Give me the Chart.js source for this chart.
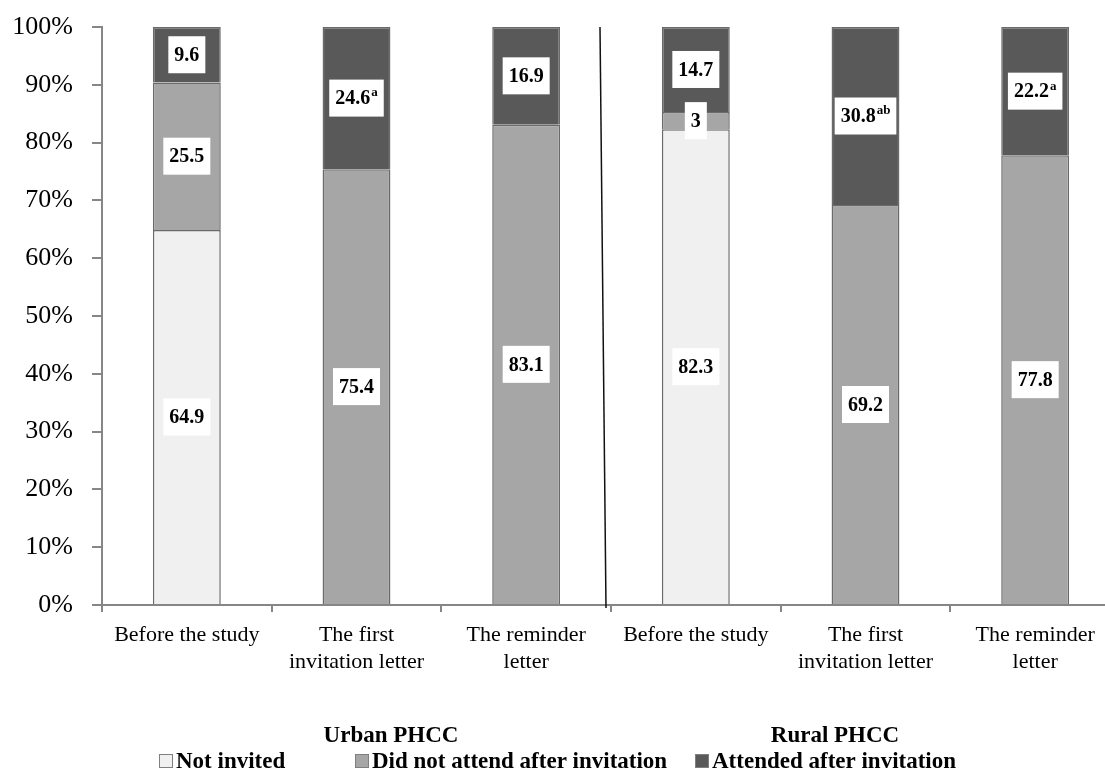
<!DOCTYPE html>
<html>
<head>
<meta charset="utf-8">
<script src="https://cdn.jsdelivr.net/npm/chart.js@4/dist/chart.umd.min.js"></script>
<style>
    html, body { margin: 0; padding: 0; background: #ffffff; overflow: hidden; }
    #caja { position: absolute; left: 0; top: 0; width: 1120px; height: 770px; }
</style>
</head>
<body>
<div id="caja"><canvas id="grafica"></canvas></div>
<script>
// categorias del eje x (3 urbano + 3 rural)
const categorias = [
    ["Before the study"],
    ["The first", "invitation letter"],
    ["The reminder", "letter"],
    ["Before the study"],
    ["The first", "invitation letter"],
    ["The reminder", "letter"],
];
const grupos = ["Urban PHCC", "Rural PHCC"];
const series = ["Not invited", "Did not attend after invitation", "Attended after invitation"];

const noInvitados = [64.9, 0, 0, 82.3, 0, 0];
const noAsistieron = [25.5, 75.4, 83.1, 3, 69.2, 77.8];
const asistieron = [9.6, 24.6, 16.9, 14.7, 30.8, 22.2];
// superindices de significancia sobre "Attended"
const superAsistieron = ["", "a", "", "", "ab", "a"];

const ticksY = [0, 10, 20, 30, 40, 50, 60, 70, 80, 90, 100];

const colores = ["#f0f0f0", "#a6a6a6", "#595959"];
const FUENTE = '"Palatino Linotype", "Book Antiqua", Palatino, "Liberation Serif", serif';

// etiquetas blancas con el valor de cada segmento
const etiquetas = {
    id: "etiquetas",
    afterDatasetsDraw(chart) {
        const ctx = chart.ctx;
        ctx.save();
        chart.data.datasets.forEach((ds, d) => {
            const meta = chart.getDatasetMeta(d);
            meta.data.forEach((bar, i) => {
                const v = ds.data[i];
                if (!v) return;
                const p = bar.getProps(["x", "y", "base"], true);
                const cy = (p.y + p.base) / 2;
                const texto = String(v);
                const sup = (ds.sup && ds.sup[i]) || "";
                ctx.font = "bold 20px " + FUENTE;
                const w1 = ctx.measureText(texto).width;
                ctx.font = "bold 13px " + FUENTE;
                const w2 = sup ? ctx.measureText(sup).width + 1 : 0;
                const ancho = w1 + w2 + 12;
                const alto = 37;
                ctx.fillStyle = "#ffffff";
                ctx.fillRect(p.x - ancho / 2, cy - alto / 2, ancho, alto);
                ctx.fillStyle = "#000000";
                ctx.textBaseline = "middle";
                ctx.textAlign = "left";
                ctx.font = "bold 20px " + FUENTE;
                const x0 = p.x - (w1 + w2) / 2;
                ctx.fillText(texto, x0, cy + 1);
                if (sup) {
                    ctx.font = "bold 13px " + FUENTE;
                    ctx.fillText(sup, x0 + w1 + 1, cy - 5);
                }
            });
        });
        ctx.restore();
    },
};

// linea que separa urbano / rural
const separador = {
    id: "separador",
    afterDraw(chart) {
        const ctx = chart.ctx;
        const x = chart.scales.x;
        const y = chart.scales.y;
        const xm = x.getPixelForValue(2.5);
        ctx.save();
        ctx.strokeStyle = "#111111";
        ctx.lineWidth = 1.5;
        ctx.beginPath();
        ctx.moveTo(xm - 11, y.getPixelForValue(100));
        ctx.lineTo(xm - 5, y.getPixelForValue(0) + 3);
        ctx.stroke();
        ctx.restore();
    },
};

// leyenda inferior hecha a mano (posiciones del original)
const leyenda = {
    id: "leyenda",
    afterDraw(chart) {
        const ctx = chart.ctx;
        ctx.save();
        ctx.fillStyle = "#000000";
        ctx.font = "bold 23px " + FUENTE;
        ctx.textBaseline = "alphabetic";
        ctx.textAlign = "center";
        ctx.fillText(grupos[0], 391, 742);
        ctx.fillText(grupos[1], 835, 742);
        const posX = [159, 355, 695];
        ctx.textAlign = "left";
        chart.data.datasets.forEach((ds, d) => {
            ctx.fillStyle = ds.backgroundColor;
            ctx.fillRect(posX[d], 754, 14, 14);
            ctx.strokeStyle = "#7f7f7f";
            ctx.lineWidth = 1;
            ctx.strokeRect(posX[d] + 0.5, 754.5, 13, 13);
            ctx.fillStyle = "#000000";
            ctx.fillText(ds.label, posX[d] + 17, 768);
        });
        ctx.restore();
    },
};

function dataset(nombre, datos, color, sup) {
    return {
        label: nombre,
        data: datos,
        sup: sup,
        backgroundColor: color,
        borderColor: "#6a6a6a",
        borderWidth: 1.5,
        categoryPercentage: 1,
        barPercentage: 0.4,
    };
}

window.onload = function () {
    let canvas = document.getElementById("grafica");
    let ctx = canvas.getContext("2d");
    new Chart(ctx, {
        type: "bar",
        data: {
            labels: categorias,
            datasets: [
                dataset(series[0], noInvitados, colores[0]),
                dataset(series[1], noAsistieron, colores[1]),
                dataset(series[2], asistieron, colores[2], superAsistieron),
            ],
        },
        options: {
            responsive: true,
            maintainAspectRatio: false,
            animation: false,
            layout: { padding: { top: 27, right: 0, left: 0, bottom: 0 } },
            plugins: {
                legend: { display: false },
                tooltip: { enabled: false },
            },
            scales: {
                x: {
                    stacked: true,
                    offset: true,
                    afterFit: (s) => { s.height = 165; },
                    grid: {
                        offset: true,
                        drawOnChartArea: false,
                        drawTicks: true,
                        tickLength: 7,
                        color: "#868686",
                        lineWidth: 2,
                    },
                    border: { display: true, color: "#868686", width: 2 },
                    ticks: {
                        autoSkip: false,
                        maxRotation: 0,
                        minRotation: 0,
                        padding: 10,
                        color: "#000000",
                        font: { family: FUENTE, size: 22, lineHeight: 1.23 },
                    },
                },
                y: {
                    stacked: true,
                    min: ticksY[0],
                    max: ticksY[ticksY.length - 1],
                    afterFit: (s) => {
                        s.width = 102;
                        s.paddingTop = 0;
                        s.paddingBottom = 0;
                    },
                    afterBuildTicks: (s) => { s.ticks = ticksY.map((v) => ({ value: v })); },
                    grid: {
                        drawOnChartArea: false,
                        drawTicks: true,
                        tickLength: 10,
                        color: "#868686",
                        lineWidth: 2,
                    },
                    border: { display: true, color: "#868686", width: 2 },
                    ticks: {
                        padding: 19,
                        color: "#000000",
                        font: { family: FUENTE, size: 26 },
                        callback: (v) => v + "%",
                    },
                },
            },
        },
        plugins: [etiquetas, separador, leyenda],
    });
};
</script>
</body>
</html>
